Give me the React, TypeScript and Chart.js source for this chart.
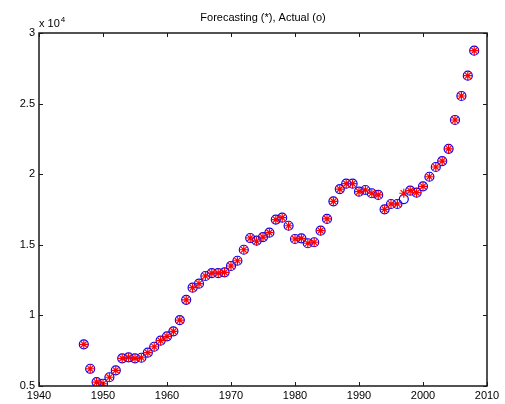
import React, { useEffect, useRef } from "react";
import { Chart, registerables } from "chart.js";

Chart.register(...registerables);

const years = [
  1947, 1948, 1949, 1950, 1951, 1952, 1953, 1954, 1955, 1956, 1957, 1958, 1959, 1960, 1961, 1962,
  1963, 1964, 1965, 1966, 1967, 1968, 1969, 1970, 1971, 1972, 1973, 1974, 1975, 1976, 1977, 1978,
  1979, 1980, 1981, 1982, 1983, 1984, 1985, 1986, 1987, 1988, 1989, 1990, 1991, 1992, 1993, 1994,
  1995, 1996, 1997, 1998, 1999, 2000, 2001, 2002, 2003, 2004, 2005, 2006, 2007, 2008,
];

const actual = [
  7950, 6220, 5280, 5160, 5620, 6110, 6960, 7030, 6960, 7000, 7360, 7780, 8210, 8520, 8870, 9670,
  11100, 11960, 12250, 12790, 13000, 13000, 13050, 13500, 13870, 14650, 15480, 15290, 15550, 15860, 16790, 16920,
  16350, 15410, 15460, 15110, 15180, 16000, 16830, 18080, 18950, 19330, 19330, 18760, 18880, 18650, 18530, 17510,
  17890, 17890, 18240, 18830, 18690, 19140, 19820, 20510, 20930, 21800, 23840, 25540, 26980, 28750,
];

const forecast = [
  7950, 6220, 5280, 5160, 5620, 6110, 6960, 7030, 6960, 7000, 7360, 7780, 8210, 8520, 8870, 9670,
  11100, 11960, 12250, 12790, 13000, 13000, 13050, 13500, 13870, 14650, 15480, 15250, 15550, 15860, 16790, 16920,
  16350, 15410, 15460, 15110, 15180, 16000, 16830, 18080, 18950, 19330, 19330, 18760, 18880, 18650, 18530, 17510,
  17890, 17890, 18650, 18830, 18690, 19140, 19820, 20510, 20930, 21800, 23840, 25540, 26980, 28750,
];

const xTicks = [1940, 1950, 1960, 1970, 1980, 1990, 2000, 2010];
const yTicks = [5000, 10000, 15000, 20000, 25000, 30000];

const titleText = "Forecasting (*), Actual (o)";
const FONT = "'Liberation Sans', Arial, Helvetica, sans-serif";

const boxPlugin = {
  id: "matlabBox",
  afterDraw(chart: any) {
    const { ctx, chartArea } = chart;
    const xs = chart.scales.x;
    const ys = chart.scales.y;
    const l = Math.round(chartArea.left);
    const r = Math.round(chartArea.right);
    const t = Math.round(chartArea.top);
    const b = Math.round(chartArea.bottom);
    ctx.save();
    ctx.strokeStyle = "#1a1a1a";
    ctx.lineWidth = 1.5;
    ctx.beginPath();
    ctx.rect(l, t, r - l, b - t);
    ctx.stroke();
    const tl = 4;
    ctx.lineWidth = 1;
    ctx.beginPath();
    xTicks.forEach((v) => {
      const px = Math.round(xs.getPixelForValue(v)) + 0.5;
      ctx.moveTo(px, b);
      ctx.lineTo(px, b - tl);
      ctx.moveTo(px, t);
      ctx.lineTo(px, t + tl);
    });
    yTicks.forEach((v) => {
      const py = Math.round(ys.getPixelForValue(v)) + 0.5;
      ctx.moveTo(l, py);
      ctx.lineTo(l + tl, py);
      ctx.moveTo(r, py);
      ctx.lineTo(r - tl, py);
    });
    ctx.stroke();
    // exponent label
    ctx.fillStyle = "#000";
    ctx.textBaseline = "alphabetic";
    ctx.textAlign = "left";
    ctx.font = `11px ${FONT}`;
    const base = "x 10";
    const lx = l;
    ctx.fillText(base, lx, 27);
    const w = ctx.measureText(base).width;
    ctx.font = `8px ${FONT}`;
    ctx.fillText("4", lx + w + 1, 22);
    ctx.restore();
  },
};

export default function App() {
  const ref = useRef<HTMLCanvasElement | null>(null);
  useEffect(() => {
    if (!ref.current) return;
    const chart = new Chart(ref.current, {
      type: "scatter",
      data: {
        datasets: [
          {
            label: "Forecasting",
            data: years.map((y, i) => ({ x: y, y: forecast[i] })),
            pointStyle: "star",
            radius: 4.5,
            borderColor: "#ff0000",
            backgroundColor: "#ff0000",
            borderWidth: 1.2,
            order: 0,
          },
          {
            label: "Actual",
            data: years.map((y, i) => ({ x: y, y: actual[i] })),
            pointStyle: "circle",
            radius: 4.5,
            borderColor: "#0000ff",
            backgroundColor: "rgba(0,0,0,0)",
            borderWidth: 1.2,
            order: 1,
          },
        ],
      },
      options: {
        responsive: false,
        animation: false,
        devicePixelRatio: 1,
        layout: { padding: { left: 0, right: 18, top: 0, bottom: 0 } },
        plugins: {
          legend: { display: false },
          tooltip: { enabled: false },
          title: {
            display: true,
            text: titleText,
            fullSize: false,
            color: "#000",
            font: { family: FONT, size: 11, weight: "normal", lineHeight: 1.2 },
            padding: { top: 11, bottom: 8.8 },
          },
        },
        scales: {
          x: {
            type: "linear",
            min: 1940,
            max: 2010,
            grid: { display: false, drawTicks: false },
            border: { display: false },
            afterFit: (s: any) => {
              s.height = 18;
            },
            afterBuildTicks: (s: any) => {
              s.ticks = xTicks.map((v) => ({ value: v }));
            },
            ticks: {
              padding: 3,
              color: "#000",
              font: { family: FONT, size: 11 },
              maxRotation: 0,
              autoSkip: false,
              callback: (v: any) => String(v),
            },
          },
          y: {
            type: "linear",
            min: 5000,
            max: 30000,
            grid: { display: false, drawTicks: false },
            border: { display: false },
            afterFit: (s: any) => {
              s.width = 39;
            },
            afterBuildTicks: (s: any) => {
              s.ticks = yTicks.map((v) => ({ value: v }));
            },
            ticks: {
              padding: 4,
              color: "#000",
              font: { family: FONT, size: 11 },
              autoSkip: false,
              callback: (v: any) => String(Number(v) / 10000),
            },
          },
        },
      },
      plugins: [boxPlugin],
    });
    return () => chart.destroy();
  }, []);
  return (
    <div style={{ position: "fixed", left: 0, top: 0, width: 505, height: 404, background: "#fff" }}>
      <canvas ref={ref} width={505} height={404} style={{ display: "block" }} />
    </div>
  );
}
